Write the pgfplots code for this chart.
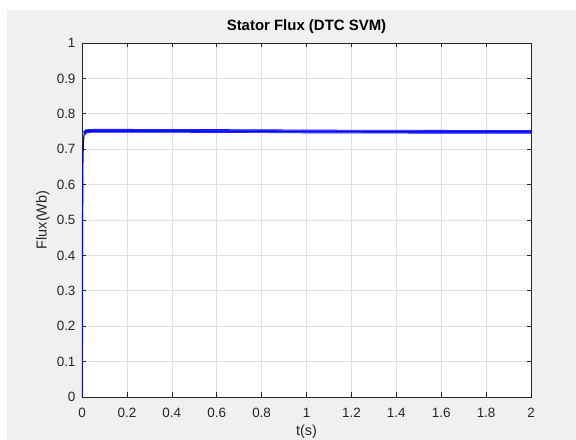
\documentclass[border=0pt]{standalone}
\usepackage{pgfplots}
\pgfplotsset{compat=1.18}
\usepackage{fontspec}
\setmainfont{Liberation Sans}
\definecolor{figbg}{RGB}{240,240,240}
\definecolor{axcol}{RGB}{38,38,38}
\definecolor{gridcol}{RGB}{223,223,223}
\begin{document}
\begin{tikzpicture}[x=1bp,y=1bp]
\useasboundingbox (-82,-43) rectangle (494,397);
\fill[white] (-82,-43) rectangle (494,397);
\fill[figbg] (-75,-43) rectangle (494,387);
\begin{axis}[
  at={(0,0)}, anchor=south west,
  scale only axis, width=449bp, height=354bp,
  xmin=0, xmax=2, ymin=0, ymax=1,
  xtick={0,0.2,...,2}, ytick={0,0.1,...,1},
  xticklabels={0,0.2,0.4,0.6,0.8,1,1.2,1.4,1.6,1.8,2},
  yticklabels={0,0.1,0.2,0.3,0.4,0.5,0.6,0.7,0.8,0.9,1},
  axis background/.style={fill=white},
  axis line style={axcol, line width=0.6bp},
  tick style={axcol, line width=0.6bp},
  tick align=inside, major tick length=4.5bp,
  xtick pos=both, ytick pos=both,
  grid=major, major grid style={gridcol, line width=0.6bp},
  ticklabel style={font=\fontsize{13.5}{15}\selectfont, text=axcol},
  xticklabel style={anchor=base, yshift=-21bp},
  yticklabel style={anchor=east, xshift=-3bp},
  title={\textbf{Stator Flux (DTC SVM)}},
  title style={at={(axis description cs:0.5,1)}, anchor=base, yshift=7bp, font=\fontsize{15}{17}\selectfont, text=black},
  xlabel={t(s)}, ylabel={Flux(Wb)},
  xlabel style={at={(axis description cs:0.5,0)}, anchor=base, yshift=-39bp, font=\fontsize{14.5}{16}\selectfont, text=axcol},
  ylabel style={at={(axis description cs:-0.0869,0.5)}, anchor=center, rotate=0, font=\fontsize{14.5}{16}\selectfont, text=axcol},
  clip=true,
]
\addplot[blue, line width=1.2bp] coordinates {(0,0) (0.002,0.45) (0.004,0.66) (0.006,0.72) (0.009,0.74) (0.013,0.748)};
\addplot[blue, line width=3.6bp] coordinates {(0.01,0.745) (0.02,0.751) (0.05,0.752) (0.2,0.752) (0.5,0.7515) (0.8,0.751) (1.0,0.750) (1.4,0.7495) (1.7,0.749) (2,0.749)};
\addplot[blue!60!white, line width=0.5bp] coordinates {(0.02,0.7545) (0.3,0.7545) (0.7,0.754) (1.2,0.7525) (1.6,0.752) (2,0.752)};
\addplot[blue!60!white, line width=0.5bp] coordinates {(0.02,0.7485) (0.3,0.7485) (0.7,0.748) (1.2,0.7465) (1.6,0.746) (2,0.746)};
\end{axis}
\end{tikzpicture}
\end{document}
